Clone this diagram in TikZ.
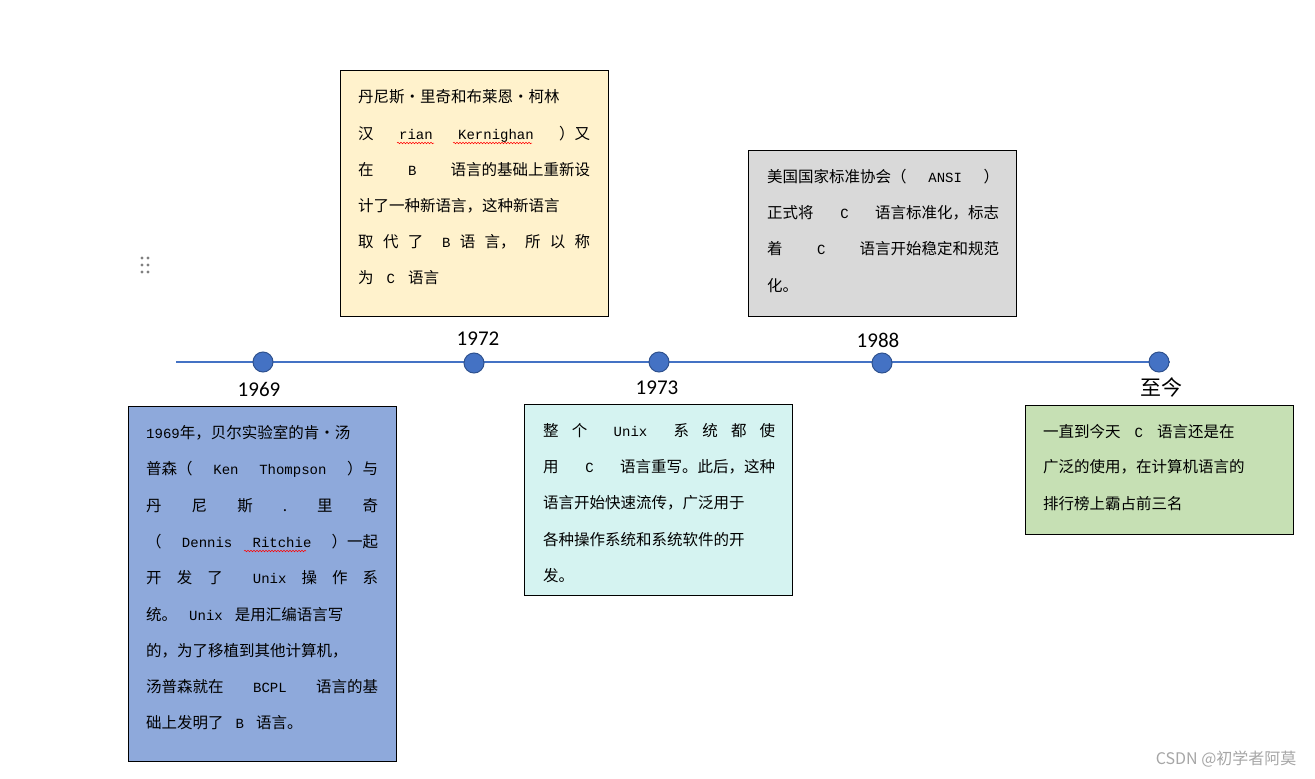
\documentclass[tikz,border=0pt]{standalone}
\usepackage{fontspec}
\setmainfont{Noto Sans CJK SC}
\newfontfamily\lt{Liberation Mono}
\newfontfamily\yr{Carlito}
\usetikzlibrary{decorations.pathmorphing}
\definecolor{tl}{HTML}{4472C4}
\definecolor{tlb}{HTML}{2F528F}
\newcommand\Lm[1]{{\lt\fontsize{14}{14}\selectfont #1}}
\newcommand\Jb[1]{\makebox[232pt][s]{#1}}
\begin{document}
\begin{tikzpicture}[x=1pt,y=-1pt,
  bx/.style={draw=black,line width=0.8pt},
  ln/.style={anchor=west,inner sep=0pt,font=\fontsize{15.5}{15.5}\selectfont},
  dot/.style={circle,fill=tl,draw=tlb,line width=1pt,minimum size=20pt,inner sep=0pt},
  yr/.style={font=\yr\fontsize{21}{21}\selectfont},
  sq/.style={red,line width=0.5pt,decorate,decoration={snake,amplitude=0.8pt,segment length=3pt}}]
\useasboundingbox (0,0) rectangle (1315,779);
% timeline
\coordinate (ls) at (176,362); \coordinate (le) at (1170,362);
\draw[tl,line width=1.6pt] (ls) -- (le);
\node[dot] (d1) at (263,362) {};
\node[dot] (d2) at (474,363) {};
\node[dot] (d3) at (659,362) {};
\node[dot] (d4) at (882,363) {};
\node[dot] (d5) at (1159,362) {};
\node[yr] (y1) at (259,389) {1969};
\node[yr] (y2) at (478,339) {1972};
\node[yr] (y3) at (657,388) {1973};
\node[yr] (y4) at (878,340) {1988};
\node[font=\fontsize{21}{21}\selectfont] (y5) at (1161,387) {至今};
% handle
\foreach \dx in {142,148} \foreach \dy in {258,265,272} \fill[gray] (\dx,\dy) circle (1.6);
% boxes
\draw[bx,fill={rgb,255:red,142;green,169;blue,219}] (128,406) rectangle (396,761);
\draw[bx,fill={rgb,255:red,255;green,242;blue,204}] (340,70) rectangle (608,316);
\draw[bx,fill={rgb,255:red,213;green,243;blue,241}] (524,404) rectangle (792,595);
\draw[bx,fill={rgb,255:red,217;green,217;blue,217}] (748,150) rectangle (1016,316);
\draw[bx,fill={rgb,255:red,198;green,224;blue,180}] (1025,405) rectangle (1293,534);
% box 1969
\node[ln] at (146,433) {\Jb{\Lm{1969}年，贝尔实验室的肯·汤}};
\node[ln] at (146,469) {\Jb{普森（\hfill\Lm{Ken}\hfill\Lm{Thompson}\hfill）与}};
\node[ln] at (146,506) {\Jb{丹\hfill 尼\hfill 斯\hfill .\hfill 里\hfill 奇}};
\node[ln] at (146,542) {\Jb{（\hfill\Lm{Dennis}\hfill\Lm{Ritchie}\hfill）一起}};
\node[ln] at (146,578) {\Jb{开\hfill 发\hfill 了\hfill\hfill\Lm{Unix}\hfill 操\hfill 作\hfill 系}};
\node[ln] at (146,615) {\makebox[232pt][l]{统。\hspace{12pt}\Lm{Unix}\hspace{12pt}是用汇编语言写}};
\node[ln] at (146,651) {\Jb{的，为了移植到其他计算机，}};
\node[ln] at (146,687) {\Jb{汤普森就在\hfill\Lm{BCPL}\hfill 语言的基}};
\node[ln] at (146,723) {\makebox[232pt][l]{础上发明了\hspace{12pt}\Lm{B}\hspace{12pt}语言。}};
\draw[sq] (244,551) -- (306,551);
% box 1972
\node[ln] at (358,97) {\Jb{丹尼斯·里奇和布莱恩·柯林}};
\node[ln] at (358,134) {\Jb{汉\hfill\Lm{rian}\hfill\Lm{Kernighan}\hfill）又}};
\node[ln] at (358,170) {\Jb{在\hfill\Lm{B}\hfill 语言的基础上重新设}};
\node[ln] at (358,206) {\Jb{计了一种新语言，这种新语言}};
\node[ln] at (358,242) {\Jb{取\hfill 代\hfill 了\hfill\hfill\Lm{B}\hfill 语\hfill 言，\hfill 所\hfill 以\hfill 称}};
\node[ln] at (358,278) {\makebox[232pt][l]{为\hspace{13pt}\Lm{C}\hspace{13pt}语言}};
\draw[sq] (397,143) -- (434,143);
\draw[sq] (453,143) -- (532,143);
% box 1973
\node[ln] at (543,431) {\Jb{整\hfill 个\hfill\hfill\Lm{Unix}\hfill\hfill 系\hfill 统\hfill 都\hfill 使}};
\node[ln] at (543,467) {\Jb{用\hfill\Lm{C}\hfill 语言重写。此后，这种}};
\node[ln] at (543,503) {\Jb{语言开始快速流传，广泛用于}};
\node[ln] at (543,540) {\Jb{各种操作系统和系统软件的开}};
\node[ln] at (543,576) {发。};
% box 1988
\node[ln] at (767,177) {\Jb{美国国家标准协会（\hfill\Lm{ANSI}\hfill）}};
\node[ln] at (767,213) {\Jb{正式将\hfill\Lm{C}\hfill 语言标准化，标志}};
\node[ln] at (767,249) {\Jb{着\hfill\Lm{C}\hfill 语言开始稳定和规范}};
\node[ln] at (767,286) {化。};
% box now
\node[ln] at (1043,432) {\makebox[232pt][l]{一直到今天\hspace{14pt}\Lm{C}\hspace{14pt}语言还是在}};
\node[ln] at (1043,467) {\Jb{广泛的使用，在计算机语言的}};
\node[ln] at (1043,504) {排行榜上霸占前三名};
% watermark
\node[anchor=east,text=gray!70,font=\fontsize{16}{16}\selectfont] (wm) at (1300,759) {CSDN @初学者阿莫};
\end{tikzpicture}
\end{document}
